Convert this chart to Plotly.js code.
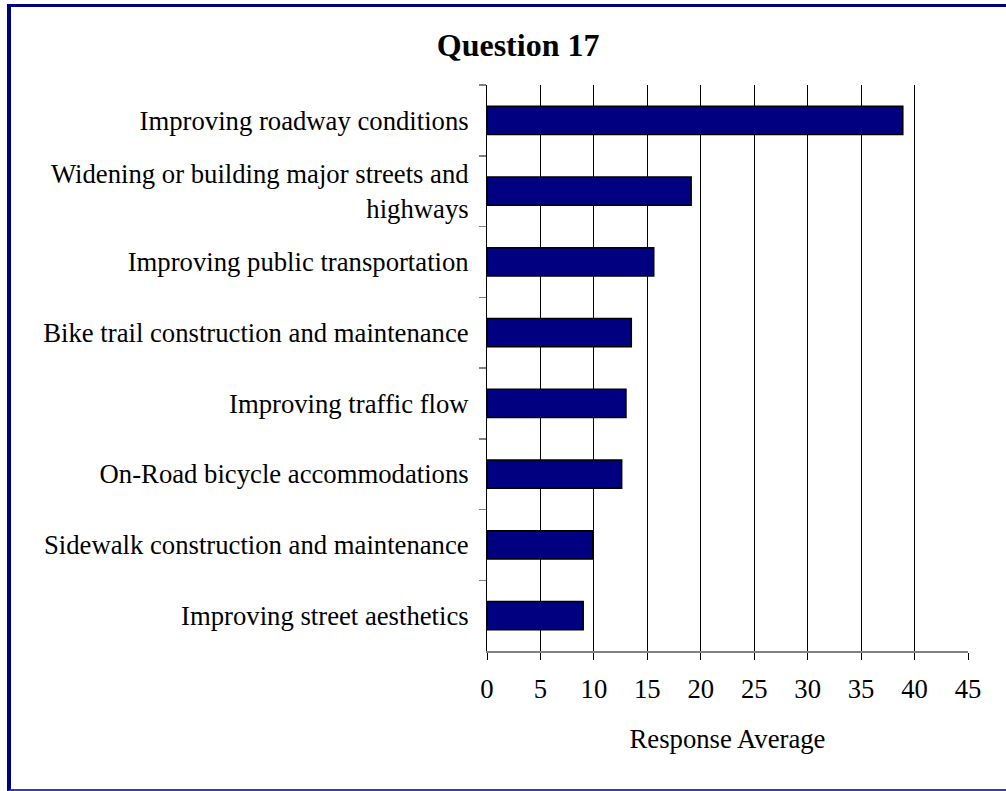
<!DOCTYPE html>
<html>
<head>
<meta charset="utf-8">
<script src="https://cdn.plot.ly/plotly-3.0.1.min.js"></script>
<style>
  html, body { margin: 0; padding: 0; background: #ffffff; }
  #wrap { position: relative; width: 1006px; height: 791px; overflow: hidden; }
  #chart { position: absolute; left: 0; top: 0; width: 1006px; height: 791px; }
  #frame { position: absolute; left: 7px; top: 4px; width: 1010px; height: 782px;
           border-left: 4px solid #000080; border-top: 3px solid #000080;
           border-bottom: 2px solid #3a3ab0; pointer-events: none; }
</style>
</head>
<body>
<div id="wrap">
  <div id="chart"></div>
  <div id="frame"></div>
</div>
<script>
const categories = [
  "Improving roadway conditions",
  "Widening or building major streets and<br>highways",
  "Improving public transportation",
  "Bike trail construction and maintenance",
  "Improving traffic flow",
  "On-Road bicycle accommodations",
  "Sidewalk construction and maintenance",
  "Improving street aesthetics"
];
const values = [38.9, 19.1, 15.6, 13.5, 13.0, 12.6, 9.9, 9.0];
const xTickValues = [0, 5, 10, 15, 20, 25, 30, 35, 40, 45];
const chartTitle = "Question 17";
const xTitle = "Response Average";

const serif = "Liberation Serif, Times New Roman, serif";

const trace = {
  type: "bar",
  orientation: "h",
  y: categories,
  x: values,
  marker: { color: "#000080", line: { color: "#000000", width: 1.5 } },
  hoverinfo: "x+y"
};

const layout = {
  width: 1006,
  height: 791,
  margin: { l: 487, r: 38, t: 85, b: 140, pad: 0 },
  paper_bgcolor: "#ffffff",
  plot_bgcolor: "#ffffff",
  showlegend: false,
  bargap: 0.6,
  font: { family: serif, size: 26.7, color: "#000000" },
  title: {
    text: "<b>" + chartTitle + "</b>",
    font: { family: serif, size: 32, color: "#000000" },
    xref: "container", yref: "container",
    x: 0.515, xanchor: "center",
    y: 1 - 45 / 791, yanchor: "middle"
  },
  xaxis: {
    range: [0, 45],
    tickvals: xTickValues,
    ticktext: xTickValues.map(String),
    showgrid: true,
    gridcolor: "#000000",
    gridwidth: 1,
    zeroline: false,
    showline: true,
    linecolor: "#808080",
    linewidth: 2,
    ticks: "outside",
    ticklen: 7,
    tickcolor: "#000000",
    tickwidth: 1,
    ticklabelstandoff: 6,
    tickfont: { family: serif, size: 26.7, color: "#000000" },
    title: { text: xTitle, font: { family: serif, size: 26.7, color: "#000000" }, standoff: 26 },
    fixedrange: true
  },
  yaxis: {
    autorange: "reversed",
    type: "category",
    showgrid: false,
    zeroline: false,
    showline: true,
    linecolor: "#000000",
    linewidth: 1,
    ticks: "outside",
    tickson: "boundaries",
    ticklen: 7,
    tickcolor: "#808080",
    tickwidth: 1.5,
    ticklabelstandoff: 12,
    tickfont: { family: serif, size: 26.7, color: "#000000" },
    fixedrange: true
  }
};

Plotly.newPlot("chart", [trace], layout, { displayModeBar: false, staticPlot: true });
</script>
</body>
</html>
